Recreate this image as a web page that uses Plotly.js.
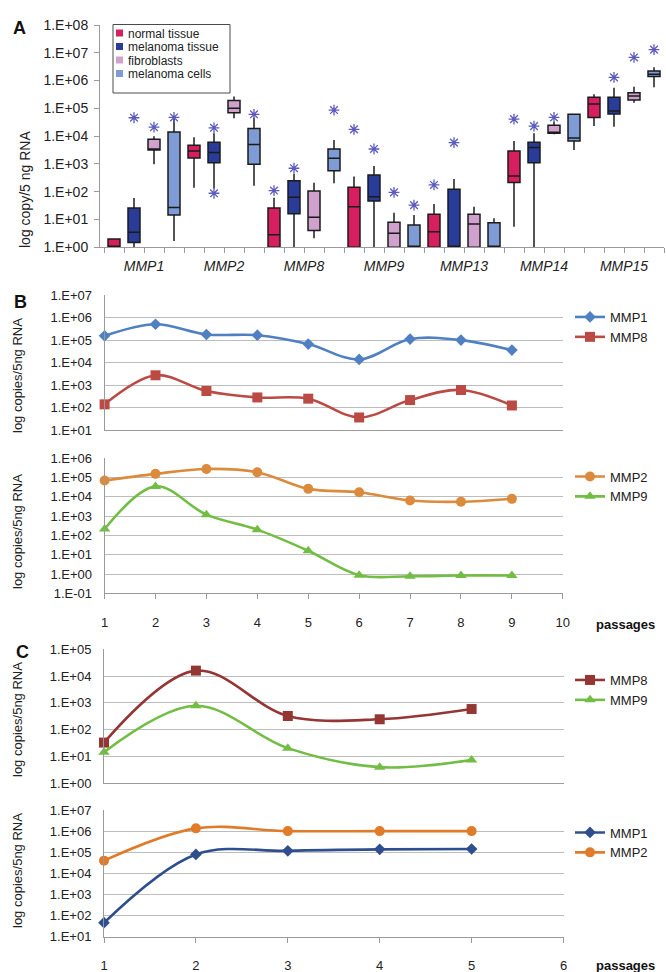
<!DOCTYPE html>
<html>
<head>
<meta charset="utf-8">
<script src="https://cdn.plot.ly/plotly-3.0.1.min.js"></script>
<style>html,body{margin:0;padding:0;background:#fff}</style>
</head>
<body>
<div id="chart" style="width:666px;height:972px"></div>
<script>
// ---------- Panel A: MMP expression by sample type ----------
const genesA = ["MMP1", "MMP2", "MMP8", "MMP9", "MMP13", "MMP14", "MMP15"];
const sampleTypes = ["normal tissue", "melanoma tissue", "fibroblasts", "melanoma cells"];
const sampleColors = ["#d61f5f", "#293c9a", "#cfa1cc", "#7f9bd5"];

// box statistics per gene (copies / 5 ng RNA)
const normalLo  = [1, 140, 1, 1, 1, 5.5, 23000];
const normalQ1  = [1, 1630, 1, 1, 1, 213, 47000];
const normalMed = [1, 2900, 2.8, 29, 3.6, 370, 144000];
const normalQ3  = [2, 4700, 26, 144, 15.4, 2930, 250000];
const normalHi  = [2.1, 9100, 61, 350, 36, 6700, 320000];
const normalOut = [[], [], [110], [17500], [175], [41000], []];

const tissueLo  = [1, 130, 1, 1, 1, 1, 22000];
const tissueQ1  = [1.5, 1110, 16, 46, 1, 1110, 63000];
const tissueMed = [3.5, 2600, 63, 66, 1, 3870, 80000];
const tissueQ3  = [26, 6000, 250, 400, 122, 6000, 250000];
const tissueHi  = [60, 12600, 435, 850, 287, 12600, 550000];
const tissueOut = [[46000], [20000, 88], [700], [3450], [5850], [23000], [1.3e6]];

const fibroLo  = [980, 44000, 2.1, 1, 1, 11600, 160000];
const fibroQ1  = [3200, 70000, 4, 1, 1, 12600, 200000];
const fibroMed = [3200, 100000, 12, 3.2, 6.9, 13000, 280000];
const fibroQ3  = [7700, 190000, 106, 8, 15.4, 24500, 365000];
const fibroHi  = [10000, 265000, 210, 17.6, 29, 33000, 600000];
const fibroOut = [[21000], [], [], [95], [], [47000], [6.8e6]];

const cellsLo  = [1.7, 165, 200, 1, 1, 3200, 570000];
const cellsQ1  = [14.5, 970, 570, 1, 1, 6700, 1.4e6];
const cellsMed = [27, 5000, 1600, 1, 1, 8500, 1.7e6];
const cellsQ3  = [14000, 19000, 3450, 6.3, 7.7, 61000, 2.2e6];
const cellsHi  = [47000, 47000, 7300, 14.5, 11, 66000, 3e6];
const cellsOut = [[47000], [61000], [87000], [33], [], [], [1.3e7]];

// ---------- Panel B: passages of primary culture ----------
const passagesB = [1, 2, 3, 4, 5, 6, 7, 8, 9];
const bMMP1 = [1.53e5, 5.0e5, 1.76e5, 1.64e5, 6.6e4, 1.37e4, 1.1e5, 9.9e4, 3.55e4];
const bMMP8 = [138, 2700, 540, 280, 247, 36, 214, 600, 123];
const bMMP2 = [7.0e4, 1.56e5, 2.8e5, 1.9e5, 2.6e4, 1.75e4, 6.5e3, 5.6e3, 7.9e3];
const bMMP9 = [215, 3.5e4, 1200, 200, 16, 0.87, 0.77, 0.84, 0.84];

// ---------- Panel C ----------
const passagesC = [1, 2, 3, 4, 5];
const cMMP8 = [33, 1.6e4, 325, 245, 590];
const cMMP9 = [14.5, 780, 20.5, 4.0, 7.4];
const cMMP1 = [46, 7.9e4, 1.17e5, 1.37e5, 1.42e5];
const cMMP2 = [4.0e4, 1.35e6, 1.0e6, 1.0e6, 1.0e6];

// ---------- helpers ----------
const W = 666, H = 972;
const FONT = '"Liberation Sans", Arial, sans-serif';
const TXT = '#222';
const AXIS = '#9a9a9a';
const GRID = '#bdbdbd';
const fx = p => p / W;          // pixel -> paper x
const fy = p => 1 - p / H;      // pixel -> paper y

const decadeLabel = e => '1.E' + (e < 0 ? '-' : '+') + String(Math.abs(e)).padStart(2, '0');
function decadeTicks(lo, hi) {
  const tickvals = [], ticktext = [];
  for (let e = lo; e <= hi; e++) { tickvals.push(Math.pow(10, e)); ticktext.push(decadeLabel(e)); }
  return { tickvals, ticktext };
}

const traces = [];

// box plots, four sample types side by side within each gene
const boxSets = [
  [normalLo, normalQ1, normalMed, normalQ3, normalHi, normalOut],
  [tissueLo, tissueQ1, tissueMed, tissueQ3, tissueHi, tissueOut],
  [fibroLo, fibroQ1, fibroMed, fibroQ3, fibroHi, fibroOut],
  [cellsLo, cellsQ1, cellsMed, cellsQ3, cellsHi, cellsOut]
];
const nTypes = sampleTypes.length;
const starX = [], starY = [];
boxSets.forEach((set, s) => {
  const [lo, q1, med, q3, hi, out] = set;
  const xs = genesA.map((g, gi) => gi * nTypes + s);
  traces.push({
    type: 'box', name: sampleTypes[s], x: xs,
    lowerfence: lo, q1: q1, median: med, q3: q3, upperfence: hi,
    fillcolor: sampleColors[s], line: { color: '#1b1b1b', width: 1.5 },
    whiskerwidth: 0, width: 0.6, boxpoints: false,
    xaxis: 'x', yaxis: 'y', showlegend: false, hoverinfo: 'skip'
  });
  out.forEach((vals, gi) => vals.forEach(v => { starX.push(gi * nTypes + s); starY.push(v); }));
});
traces.push({
  type: 'scatter', mode: 'markers', x: starX, y: starY,
  marker: { symbol: 'asterisk-open', size: 9, color: '#5b5bbd', line: { width: 1.3, color: '#5b5bbd' } },
  xaxis: 'x', yaxis: 'y', showlegend: false, hoverinfo: 'skip', cliponaxis: false
});

function lineTrace(name, xs, ys, color, symbol, size, xa, ya, legend) {
  return {
    type: 'scatter', mode: 'lines+markers', name, x: xs, y: ys,
    line: { color, width: 2.6, shape: 'spline', smoothing: 1 },
    marker: { symbol, size, color },
    xaxis: xa, yaxis: ya, legend, cliponaxis: false, hoverinfo: 'skip'
  };
}
traces.push(lineTrace('MMP1', passagesB, bMMP1, '#5080c2', 'diamond', 9, 'x2', 'y2', 'legend'));
traces.push(lineTrace('MMP8', passagesB, bMMP8, '#bb4a45', 'square', 10, 'x2', 'y2', 'legend'));
traces.push(lineTrace('MMP2', passagesB, bMMP2, '#dc8a3c', 'circle', 10, 'x3', 'y3', 'legend2'));
traces.push(lineTrace('MMP9', passagesB, bMMP9, '#72bd44', 'triangle-up', 10, 'x3', 'y3', 'legend2'));
traces.push(lineTrace('MMP8', passagesC, cMMP8, '#943634', 'square', 10, 'x4', 'y4', 'legend3'));
traces.push(lineTrace('MMP9', passagesC, cMMP9, '#72bd44', 'triangle-up', 10, 'x4', 'y4', 'legend3'));
traces.push(lineTrace('MMP1', passagesC, cMMP1, '#2f4e8e', 'diamond', 9, 'x5', 'y5', 'legend4'));
traces.push(lineTrace('MMP2', passagesC, cMMP2, '#e07b2a', 'circle', 10, 'x5', 'y5', 'legend4'));

// ---------- axes ----------
function logAxis(lo, hi, top, bottom, anchor, grid, size) {
  return Object.assign({
    type: 'log', range: [lo, hi], domain: [fy(bottom), fy(top)], anchor,
    tickmode: 'array', showgrid: grid, gridcolor: GRID, gridwidth: 1,
    showline: true, linecolor: AXIS, linewidth: 1, zeroline: false,
    ticks: grid ? '' : 'outside', ticklen: 5, tickcolor: AXIS,
    ticklabelstandoff: grid ? 9 : 3,
    tickfont: { family: FONT, size, color: TXT }, fixedrange: true
  }, decadeTicks(lo, hi));
}
function passageAxis(n, left, right, anchor, labels) {
  const ticks = [];
  for (let i = 1; i <= n; i++) ticks.push(i);
  return {
    range: [1, n], domain: [fx(left), fx(right)], anchor,
    showgrid: false, zeroline: false, showline: true, linecolor: AXIS,
    ticks: labels ? 'outside' : '', ticklen: 5, tickcolor: AXIS,
    tickmode: 'array', tickvals: ticks, showticklabels: labels,
    ticklabelstandoff: 12,
    tickfont: { family: FONT, size: 13, color: TXT }, fixedrange: true
  };
}

const groupCenters = genesA.map((g, gi) => gi * nTypes + (nTypes - 1) / 2);

const layout = {
  width: W, height: H,
  margin: { l: 0, r: 0, t: 0, b: 0 },
  paper_bgcolor: '#fff', plot_bgcolor: '#fff',
  font: { family: FONT, color: TXT },
  showlegend: true,
  xaxis: {
    range: [-0.7, genesA.length * nTypes - 0.5], domain: [fx(100), fx(664)], anchor: 'y',
    tickmode: 'array', tickvals: groupCenters, ticktext: genesA,
    ticks: 'outside', ticklen: 5, tickcolor: AXIS,
    minor: { tick0: -0.5, dtick: 1, ticks: 'outside', ticklen: 5, tickcolor: AXIS, showgrid: false },
    showline: true, linecolor: AXIS, showgrid: false, zeroline: false,
    ticklabelstandoff: 1,
    tickfont: { family: FONT, size: 14, color: TXT, style: 'italic' }, fixedrange: true
  },
  yaxis: logAxis(0, 8, 25, 247.3, 'x', false, 14),
  xaxis2: passageAxis(10, 104.6, 562.8, 'y2', false),
  yaxis2: logAxis(1, 7, 295, 430, 'x2', true, 13),
  xaxis3: passageAxis(10, 104.6, 562.8, 'y3', true),
  yaxis3: logAxis(-1, 6, 458.3, 593.3, 'x3', true, 13),
  xaxis4: passageAxis(6, 104, 563.5, 'y4', false),
  yaxis4: logAxis(0, 5, 649.3, 783.3, 'x4', true, 13),
  xaxis5: passageAxis(6, 104, 563.5, 'y5', true),
  yaxis5: logAxis(1, 7, 810, 936.7, 'x5', true, 13),
  shapes: [],
  annotations: []
};

const legendStyle = (top) => ({
  x: fx(570), y: fy(top), xanchor: 'left', yanchor: 'top',
  bgcolor: 'rgba(0,0,0,0)', borderwidth: 0, itemwidth: 30, tracegroupgap: 0,
  font: { family: FONT, size: 13, color: TXT }
});
layout.legend = legendStyle(302);
layout.legend2 = legendStyle(461.5);
layout.legend3 = legendStyle(665);
layout.legend4 = legendStyle(817.5);

// sample-type key for panel A
layout.shapes.push({
  type: 'rect', xref: 'paper', yref: 'paper',
  x0: fx(113), x1: fx(230), y0: fy(93), y1: fy(24.5),
  line: { color: '#4a4a4a', width: 1 }, fillcolor: '#fff'
});
sampleTypes.forEach((name, s) => {
  const cy = 33 + s * 13.5;
  layout.shapes.push({
    type: 'rect', xref: 'paper', yref: 'paper',
    x0: fx(116), x1: fx(123), y0: fy(cy + 3.5), y1: fy(cy - 3.5),
    line: { width: 0 }, fillcolor: sampleColors[s]
  });
  layout.annotations.push({
    xref: 'paper', yref: 'paper', x: fx(126.5), y: fy(cy), xanchor: 'left', yanchor: 'middle',
    text: name, showarrow: false, borderpad: 0, height: 13,
    font: { family: FONT, size: 12, color: TXT }
  });
});

// y-axis titles and panel letters
const vtitle = (text, x, y, size) => ({
  xref: 'paper', yref: 'paper', x: fx(x), y: fy(y), xanchor: 'center', yanchor: 'middle',
  text, textangle: -90, showarrow: false, font: { family: FONT, size, color: TXT }
});
layout.annotations.push(vtitle('log copy/5 ng RNA', 25, 190, 14));
layout.annotations.push(vtitle('log copies/5ng RNA', 17, 376, 13));
layout.annotations.push(vtitle('log copies/5ng RNA', 17, 532, 13));
layout.annotations.push(vtitle('log copies/5ng RNA', 17, 720, 13));
layout.annotations.push(vtitle('log copies/5ng RNA', 17, 871, 13));

const plain = (text, x, y, size, bold) => ({
  xref: 'paper', yref: 'paper', x: fx(x), y: fy(y), xanchor: 'center', yanchor: 'middle',
  text: bold ? '<b>' + text + '</b>' : text, showarrow: false,
  font: { family: FONT, size, color: '#111' }
});
layout.annotations.push(plain('A', 19, 28, 18, true));
layout.annotations.push(plain('B', 21, 302, 18, true));
layout.annotations.push(plain('C', 22, 652, 18, true));
layout.annotations.push(plain('passages', 625, 624, 13, true));
layout.annotations.push(plain('passages', 625, 965, 13, true));

Plotly.newPlot('chart', traces, layout, { staticPlot: true, displayModeBar: false });
</script>
</body>
</html>
